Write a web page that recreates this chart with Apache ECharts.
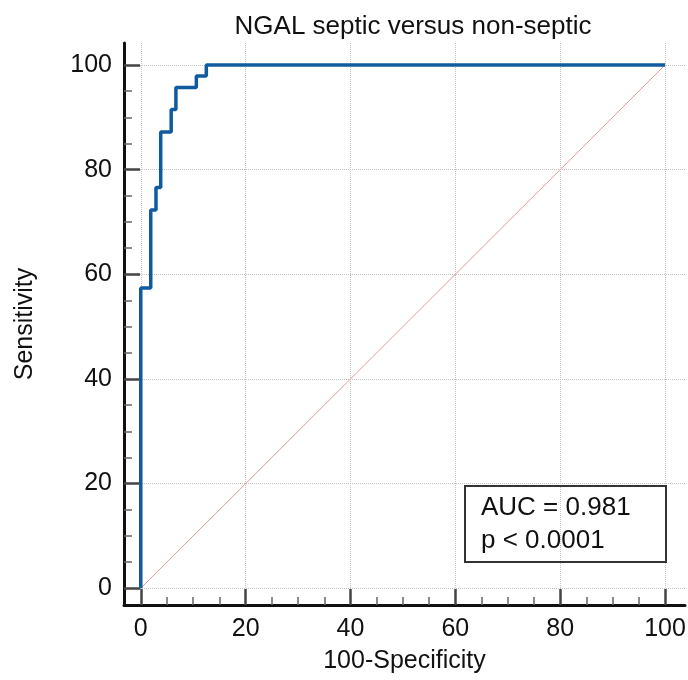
<!DOCTYPE html>
<html>
<head>
    <meta charset="utf-8">
    <title>ROC NGAL</title>
    <script src="https://cdn.jsdelivr.net/npm/echarts@6/dist/echarts.min.js"></script>
</head>
<body style="margin:0">
<div id="main" style="width: 688px;height:680px;"></div>
<script type="text/javascript">
    // ROC curve corner points (100-Specificity, Sensitivity)
    var rocX = [0, 0, 1.9, 2.9, 3.8, 5.8, 6.7, 10.6, 12.5, 100];
    var rocY = [0, 57.4, 72.3, 76.6, 87.2, 91.5, 95.7, 97.9, 100, 100];
    // reference diagonal
    var diagX = [0, 100];
    var diagY = [0, 100];
    // ticks
    var majorTicks = [0, 20, 40, 60, 80, 100];
    var minorTicks = [5, 10, 15, 25, 30, 35, 45, 50, 55, 65, 70, 75, 85, 90, 95];
    var titleText = 'NGAL septic versus non-septic';
    var aucText = 'AUC = 0.981\np < 0.0001';

    var font = "'Liberation Sans', Arial, sans-serif";

    function pairs(xs, ys) {
        var out = [];
        for (var i = 0; i < xs.length; i++) out.push([xs[i], ys[i]]);
        return out;
    }

    function axes(dim) {
        var isX = dim === 'x';
        var lo = -3.2, hi = isX ? 103.8 : 104.2;
        var major = {
            type: 'value', min: lo, max: hi,
            position: isX ? 'bottom' : 'left',
            name: isX ? '100-Specificity' : 'Sensitivity',
            nameLocation: 'middle',
            nameGap: isX ? 44 : 86,
            nameTextStyle: { fontSize: 25, color: '#111', fontFamily: font },
            axisLine: { show: true, onZero: false, lineStyle: { color: '#111', width: 3 } },
            axisTick: { show: true, inside: true, length: 16, customValues: majorTicks,
                lineStyle: { color: '#444', width: 2.5 } },
            axisLabel: { customValues: majorTicks, fontSize: 25, color: '#111',
                fontFamily: font, margin: 12 },
            splitLine: { show: true, lineStyle: { color: '#c4c4c4', type: 'dotted', width: 1 } }
        };
        var minor = {
            type: 'value', min: lo, max: hi,
            position: isX ? 'bottom' : 'left',
            axisLine: { show: false, onZero: false },
            axisTick: { show: true, inside: true, length: 8, customValues: minorTicks,
                lineStyle: { color: '#666', width: 1.5 } },
            axisLabel: { show: false },
            splitLine: { show: false }
        };
        return [major, minor];
    }

    var myChart = echarts.init(document.getElementById('main'));
    var option = {
        animation: false,
        backgroundColor: '#fff',
        title: [{
            text: titleText,
            left: 408, top: 9,
            textAlign: 'center',
            textStyle: { fontSize: 26, fontWeight: 'normal', color: '#111', fontFamily: font }
        }, {
            text: aucText,
            left: 465, top: 486,
            padding: [5, 36, 5, 16],
            borderWidth: 2, borderColor: '#333',
            textStyle: { fontSize: 26, fontWeight: 'normal', color: '#111',
                fontFamily: font, lineHeight: 33 }
        }],
        grid: { left: 124, right: 3, top: 43, bottom: 75, containLabel: false,
            outerBoundsMode: 'none' },
        xAxis: axes('x'),
        yAxis: axes('y'),
        series: [{
            type: 'line',
            data: pairs(diagX, diagY),
            symbol: 'none',
            silent: true,
            lineStyle: { color: '#e39a9a', width: 1 }
        }, {
            type: 'line',
            data: pairs(rocX, rocY),
            step: 'end',
            symbol: 'none',
            lineStyle: { color: '#0f5b9e', width: 3.5 }
        }]
    };
    myChart.setOption(option);
</script>
</body>
</html>
